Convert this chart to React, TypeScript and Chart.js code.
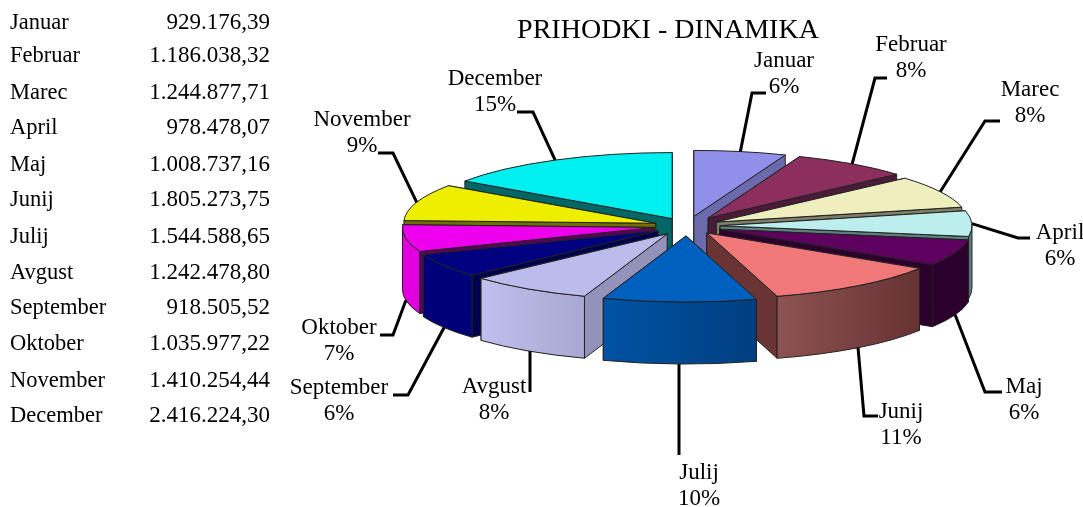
import React, { useEffect, useRef } from "react";
import { Chart, registerables } from "chart.js";

Chart.register(...registerables);

const months = ["Januar","Februar","Marec","April","Maj","Junij","Julij","Avgust","September","Oktober","November","December"];
const revenue = [929176.39,1186038.32,1244877.71,978478.07,1008737.16,1805273.75,1544588.65,1242478.80,918505.52,1035977.22,1410254.44,2416224.30];
const title = "PRIHODKI - DINAMIKA";

// styles
const topColors = ["#9090EA","#8D2F5E","#EEEEBE","#BDEEEE","#5E005E","#F07878","#0060C0","#BCBCEC","#000080","#EE00EE","#EEEE00","#00F0F0"];
const wallColors = ["#6A6AAC","#4A1A38","#7E7E66","#5E7E7E","#2C002C","#6B3434","#004A90","#9292BA","#00004C","#5A005A","#707000","#006666"];
const bandFrom = ["#6A6AAC","#4A1A38","#7E7E66","#5E7E7E","#2C002C","#8E5252","#0052A4","#C0C0EE","#000078","#E000E0","#707000","#006666"];
const bandTo = ["#6A6AAC","#4A1A38","#7E7E66","#5E7E7E","#2C002C","#663232","#003F80","#A8A8D2","#000078","#E000E0","#707000","#006666"];
// layout
const explode = [37,37,33,33,35,33,38,36,34,33,33,32];
const rowY = [23,56,93,128,165,200,237,273,308,344,381,416];
const labelCentre: [number,number][] = [[784,61],[911,45],[1030,90],[1060,233],[1024,387],[901,412],[699,473],[494,387],[339,388],[339,328],[362,120],[495,79]];
const elbow: [number,number][] = [[752,93],[875,78],[985,121],[1018,238],[985,392],[864,416],[679,455],[530,392],[408,395],[393,335],[393,153],[533,112]];
const tail: [number,number][] = [[766,93],[887,78],[1000,121],[1030,238],[1002,392],[878,416],[679,455],[530,392],[393,395],[380,335],[378,153],[517,112]];

const K = 0.262;
const DEPTH = 62;
const FONT = '23px "Liberation Serif"';
const ROW_FONT = '22.5px "Liberation Serif"';

const euro = (v: number) => v.toLocaleString("de-DE", { minimumFractionDigits: 2, maximumFractionDigits: 2 });

const pie3d = {
  id: "pie3d",
  beforeDatasetsDraw(chart: any) {
    const ctx: any = chart.ctx;
    const arcs: any[] = chart.getDatasetMeta(0).data;
    const mid = (a: any) => (a.startAngle + a.endAngle) / 2;
    const order = arcs.map((_, i) => i).sort((p, q) => Math.sin(mid(arcs[p])) - Math.sin(mid(arcs[q])));
    const place = (a: any, i: number, down: number) => {
      ctx.setTransform(1, 0, 0, K, a.x + Math.cos(mid(a)) * explode[i], a.y + Math.sin(mid(a)) * explode[i] * K + down);
    };
    const outline = () => {
      ctx.setTransform(1, 0, 0, 1, 0, 0);
      ctx.lineWidth = 1;
      ctx.strokeStyle = "#222";
      ctx.lineJoin = "round";
      ctx.fill();
      ctx.stroke();
    };
    for (const i of order) {
      const a = arcs[i];
      const r = a.outerRadius;
      ctx.save();
      const walls = [a.startAngle, a.endAngle].sort((p, q) => Math.sin(p) - Math.sin(q));
      for (const ang of walls) {
        ctx.beginPath();
        place(a, i, 0);
        ctx.moveTo(0, 0);
        ctx.lineTo(Math.cos(ang) * r, Math.sin(ang) * r);
        place(a, i, DEPTH);
        ctx.lineTo(Math.cos(ang) * r, Math.sin(ang) * r);
        ctx.lineTo(0, 0);
        ctx.closePath();
        ctx.fillStyle = wallColors[i];
        outline();
      }
      // the curved outer face, only where it looks at the viewer
      const twoPi = Math.PI * 2;
      const s = a.startAngle, e = a.endAngle;
      const ranges: [number, number][] = [];
      for (const base of [-twoPi, 0, twoPi]) {
        const lo = Math.max(s, base), hi = Math.min(e, base + Math.PI);
        if (hi > lo) ranges.push([lo, hi]);
      }
      for (const [lo, hi] of ranges) {
        const ox = a.x + Math.cos(mid(a)) * explode[i];
        const g = ctx.createLinearGradient(ox + Math.cos(hi) * r, 0, ox + Math.cos(lo) * r, 0);
        g.addColorStop(0, bandFrom[i]);
        g.addColorStop(1, bandTo[i]);
        ctx.beginPath();
        place(a, i, 0);
        ctx.arc(0, 0, r, lo, hi);
        place(a, i, DEPTH);
        ctx.arc(0, 0, r, hi, lo, true);
        ctx.closePath();
        ctx.fillStyle = g;
        outline();
      }
      // top face through the library's own arc element
      ctx.setTransform(1, 0, 0, K, Math.cos(mid(a)) * explode[i], a.y * (1 - K) + Math.sin(mid(a)) * explode[i] * K);
      a.draw(ctx);
      ctx.beginPath();
      place(a, i, 0);
      ctx.moveTo(0, 0);
      ctx.arc(0, 0, r, s, e);
      ctx.closePath();
      ctx.setTransform(1, 0, 0, 1, 0, 0);
      ctx.lineWidth = 1;
      ctx.strokeStyle = "#222";
      ctx.stroke();
      ctx.restore();
    }
    // leader lines and labels
    const total = revenue.reduce((p, v) => p + v, 0);
    ctx.save();
    ctx.setTransform(1, 0, 0, 1, 0, 0);
    arcs.forEach((a, i) => {
      const m = mid(a);
      const vertical = elbow[i][0] === tail[i][0] && elbow[i][1] === tail[i][1];
      const ax = vertical ? elbow[i][0] : a.x + Math.cos(m) * (explode[i] + a.outerRadius);
      const front = Math.sin(m) > 0.1;
      const ay = a.y + Math.sin(m) * (explode[i] + a.outerRadius) * K + (front ? DEPTH : 0);
      ctx.beginPath();
      ctx.moveTo(ax, ay);
      ctx.lineTo(elbow[i][0], elbow[i][1]);
      ctx.lineTo(tail[i][0], tail[i][1]);
      ctx.lineWidth = 3;
      ctx.strokeStyle = "#000";
      ctx.lineJoin = "miter";
      ctx.stroke();
      ctx.fillStyle = "#000";
      ctx.font = FONT;
      ctx.textAlign = "center";
      ctx.textBaseline = "middle";
      ctx.fillText(months[i], labelCentre[i][0], labelCentre[i][1]);
      ctx.fillText(Math.round((revenue[i] / total) * 100) + "%", labelCentre[i][0], labelCentre[i][1] + 26);
    });
    // table
    months.forEach((m, i) => {
      ctx.fillStyle = "#000";
      ctx.textBaseline = "middle";
      ctx.font = ROW_FONT;
      ctx.textAlign = "left";
      ctx.fillText(m, 10, rowY[i]);
      ctx.font = FONT;
      ctx.textAlign = "right";
      ctx.fillText(euro(revenue[i]), 270, rowY[i]);
    });
    ctx.font = '28px "Liberation Serif"';
    ctx.textAlign = "center";
    ctx.fillText(title, 668, 31);
    ctx.restore();
    return false;
  },
};

export default function App() {
  const ref = useRef<HTMLCanvasElement>(null);
  useEffect(() => {
    const chart = new Chart(ref.current!, {
      type: "pie",
      data: {
        labels: months,
        datasets: [{ data: revenue, backgroundColor: topColors, borderWidth: 0 }],
      },
      options: {
        animation: false,
        responsive: false,
        radius: 252,
        layout: { padding: { left: 291, right: 0, top: 0, bottom: 55 } },
        plugins: { legend: { display: false }, tooltip: { enabled: false }, title: { display: false } },
      } as any,
      plugins: [pie3d as any],
    });
    return () => chart.destroy();
  }, []);
  return (
    <canvas
      ref={ref}
      width={1083}
      height={507}
      style={{ position: "fixed", left: 0, top: 0, width: 1083, height: 507, background: "#fff" }}
    />
  );
}
